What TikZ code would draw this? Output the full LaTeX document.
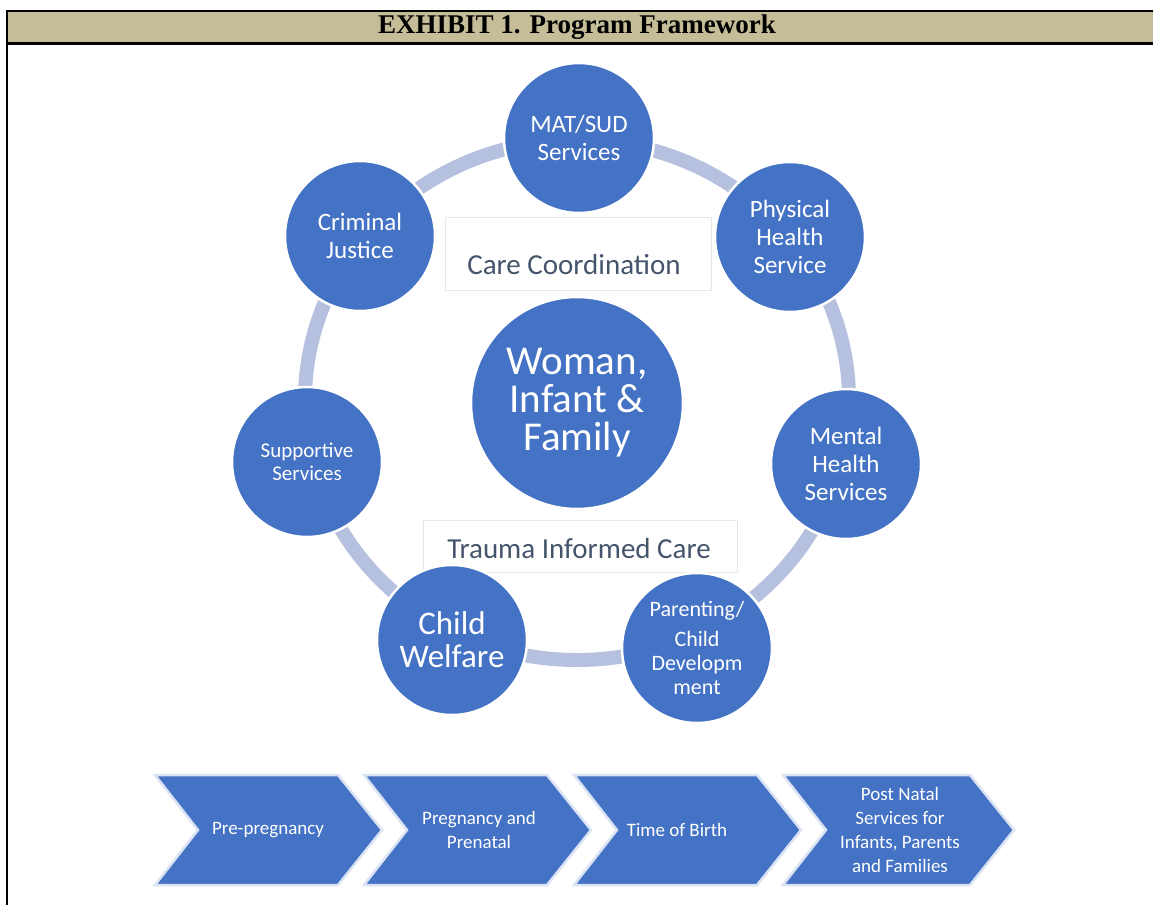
\documentclass[tikz,border=0pt]{standalone}
\usepackage{fontspec}
\setmainfont{Carlito}
\newfontfamily\headfont{Liberation Serif}
\usetikzlibrary{positioning}

\definecolor{ppblue}{RGB}{68,114,196}
\definecolor{ringgray}{RGB}{181,193,222}
\definecolor{headtan}{RGB}{196,189,151}
\definecolor{labelslate}{RGB}{68,84,106}
\definecolor{glow}{RGB}{218,227,243}

\begin{document}
\begin{tikzpicture}[x=1pt,y=-1pt,
    sat/.style={circle,fill=ppblue,draw=white,line width=2.5pt,text=white,align=center,
                minimum size=150pt,inner sep=0pt,font=\fontsize{25}{28}\selectfont},
    tag/.style={text=labelslate,font=\fontsize{29}{32}\selectfont},
    tagbox/.style={draw=gray!18,line width=1pt},
    chev/.style={fill=ppblue,draw=glow,line width=2.5pt,line join=miter},
    chevtext/.style={text=white,align=center,font=\fontsize{19}{24}\selectfont}]
\useasboundingbox (0,0) rectangle (1153,905);

%---------------------------------------------------------------------------------------- ENCABEZADO
\fill[headtan] (7,11) rectangle (1153,43);
\draw[line width=2pt] (7,11) -- (1153,11);
\draw[line width=3pt] (7,43) -- (1153,43);
\draw[line width=2pt] (7,10) -- (7,905);          %------------------------------------ left rule
\node[font=\headfont\bfseries\fontsize{27}{30}\selectfont] (title) at (577,27) {EXHIBIT 1. Program Framework};

%---------------------------------------------------------------------------------------- ANILLO
\draw[ringgray, line width=14pt] (577,400) ellipse (272 and 260);

%---------------------------------------------------------------------------------------- ETIQUETAS
\draw[tagbox] (445,217) rectangle (711,290);
\node[tag] (coord) at (574,265) {Care Coordination};
\draw[tagbox] (423,520) rectangle (737,572);
\node[tag] (trauma) at (579,549) {Trauma Informed Care};

%---------------------------------------------------------------------------------------- CENTRO
\node[sat, minimum size=212pt, font=\fontsize{41}{38}\selectfont] (woman) at (577,403) {Woman,\\Infant \&\\Family};

%---------------------------------------------------------------------------------------- SERVICIOS
\node[sat] (mat) at (579,138) {MAT/SUD\\Services};
\node[sat] (physical) at (790,237) {Physical\\Health\\Service};
\node[sat] (mental) at (846,464) {Mental\\Health\\Services};
\node[sat, font=\fontsize{22}{24}\selectfont] (parenting) at (697,648) {Parenting/\\[6pt]Child\\Developm\\ment};
\node[sat, font=\fontsize{33}{33}\selectfont] (welfare) at (452,640) {Child\\Welfare};
\node[sat, font=\fontsize{21}{23}\selectfont] (supportive) at (307,462) {Supportive\\Services};
\node[sat] (criminal) at (360,236) {Criminal\\Justice};

%---------------------------------------------------------------------------------------- ETAPAS
\filldraw[chev, shift={(155,775)}] (0,0) -- (183,0) -- (227,55) -- (183,110) -- (0,110) -- (43,55) -- cycle;
\node[chevtext] (prepreg) at (268,830) {Pre-pregnancy};

\filldraw[chev, shift={(364,775)}] (0,0) -- (183,0) -- (227,55) -- (183,110) -- (0,110) -- (43,55) -- cycle;
\node[chevtext] (prenatal) at (479,830) {Pregnancy and\\Prenatal};

\filldraw[chev, shift={(574,775)}] (0,0) -- (183,0) -- (227,55) -- (183,110) -- (0,110) -- (43,55) -- cycle;
\node[chevtext] (birth) at (677,830) {Time of Birth};

\filldraw[chev, shift={(783,775)}] (0,0) -- (187,0) -- (231,55) -- (187,110) -- (0,110) -- (43,55) -- cycle;
\node[chevtext] (postnatal) at (900,830) {Post Natal\\Services for\\Infants, Parents\\and Families};

\end{tikzpicture}
\end{document}
